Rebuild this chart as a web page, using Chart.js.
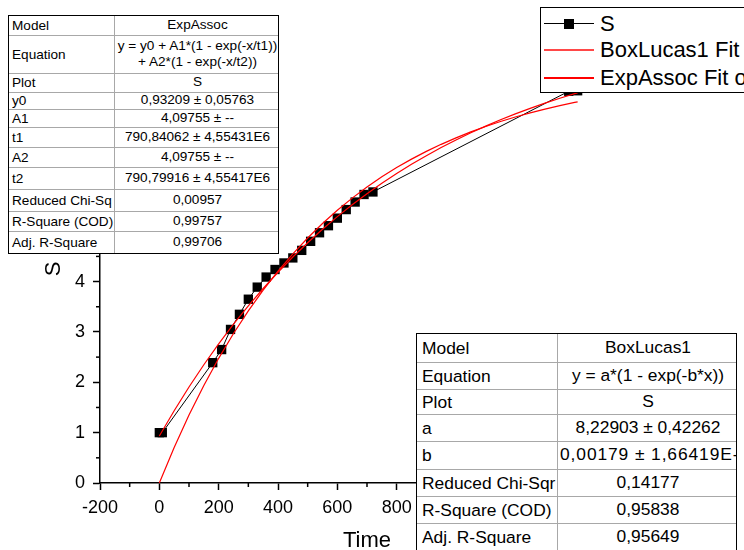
<!DOCTYPE html>
<html><head><meta charset="utf-8">
<script src="https://cdn.jsdelivr.net/npm/chart.js@4"></script>
<style>
html,body{margin:0;padding:0;background:#fff;}
#wrap{position:relative;width:744px;height:550px;overflow:hidden;font-family:"Liberation Sans",Arial,sans-serif;color:#000;}
#c{position:absolute;left:0;top:0;}
.tbl{position:absolute;background:#fff;border:1px solid #000;box-sizing:border-box;overflow:hidden;}
.cell{position:absolute;box-sizing:border-box;display:flex;align-items:center;overflow:hidden;line-height:1.15;border-bottom:1px solid #a8a8a8;}
.cell.last{border-bottom:none;}
.cell.lab{border-right:1px solid #a8a8a8;}
.cell span{display:block;white-space:pre;}
.cell.val span{width:100%;text-align:center;}
#legend{position:absolute;left:540px;top:7px;width:240px;height:86px;border:1px solid #000;background:#fff;box-sizing:border-box;}
.lrow{position:absolute;left:0;height:0;}
.lline{position:absolute;left:3px;width:50px;top:-1px;}
.lmark{position:absolute;left:23px;top:-5px;width:10px;height:10px;background:#000;}
.ltext{position:absolute;left:59px;top:-14px;font-size:22px;line-height:27px;white-space:nowrap;}
</style>
</head><body>
<div id="wrap">
<canvas id="c" width="744" height="550"></canvas>
</div>
<script>
// ---- data ----
const timeS = [0, 10, 180, 210, 240, 270, 300, 330, 360, 390, 420, 450, 480, 510, 540, 570, 600, 630, 660, 690, 720, 1380, 1410];
const valS  = [1.00, 1.00, 2.39, 2.65, 3.05, 3.35, 3.65, 3.89, 4.09, 4.24, 4.37, 4.47, 4.62, 4.80, 4.97, 5.11, 5.26, 5.43, 5.58, 5.73, 5.78, 7.78, 7.79];

const fitX = [0, 50, 100, 150, 200, 250, 300, 350, 400, 450, 500, 550, 600, 650, 700, 750, 800, 850, 900, 950, 1000, 1050, 1100, 1150, 1200, 1250, 1300, 1350, 1400, 1410];
const boxLucasY = [0, 0.705, 1.349, 1.938, 2.476, 2.969, 3.419, 3.831, 4.207, 4.552, 4.866, 5.154, 5.418, 5.658, 5.878, 6.080, 6.264, 6.432, 6.586, 6.726, 6.855, 6.973, 7.080, 7.179, 7.269, 7.351, 7.426, 7.495, 7.558, 7.570];
const expAssocY = [0.932, 1.434, 1.906, 2.348, 2.763, 3.153, 3.519, 3.863, 4.185, 4.488, 4.772, 5.039, 5.290, 5.525, 5.745, 5.953, 6.147, 6.330, 6.501, 6.662, 6.813, 6.955, 7.088, 7.213, 7.330, 7.440, 7.544, 7.641, 7.732, 7.749];

const xTickValues = [-200, 0, 200, 400, 600, 800, 1000, 1200, 1400, 1600];
const xMinorTicks = [-100, 100, 300, 500, 700, 900, 1100, 1300, 1500];
const yTickValues = [0, 1, 2, 3, 4, 5, 6, 7, 8];
const yMinorTicks = [0.5, 1.5, 2.5, 3.5, 4.5, 5.5, 6.5, 7.5];

const seriesNames = ["S", "BoxLucas1 Fit of S", "ExpAssoc Fit of S"];
const xTitle = "Time";
const yTitle = "S";

const expAssocTable = [
  ["Model", "ExpAssoc"],
  ["Equation", "y = y0 + A1*(1 - exp(-x/t1))\n+ A2*(1 - exp(-x/t2))"],
  ["Plot", "S"],
  ["y0", "0,93209 ± 0,05763"],
  ["A1", "4,09755 ± --"],
  ["t1", "790,84062 ± 4,55431E6"],
  ["A2", "4,09755 ± --"],
  ["t2", "790,79916 ± 4,55417E6"],
  ["Reduced Chi-Sq", "0,00957"],
  ["R-Square (COD)", "0,99757"],
  ["Adj. R-Square", "0,99706"]
];
const boxLucasTable = [
  ["Model", "BoxLucas1"],
  ["Equation", "y = a*(1 - exp(-b*x))"],
  ["Plot", "S"],
  ["a", "8,22903 ± 0,42262"],
  ["b", "0,00179 ± 1,66419E-4"],
  ["Reduced Chi-Sqr", "0,14177"],
  ["R-Square (COD)", "0,95838"],
  ["Adj. R-Square", "0,95649"]
];

// ---- chart ----
const FONT = '"Liberation Sans", Arial, sans-serif';
const pts = (xs, ys) => xs.map((x, i) => ({x, y: ys[i]}));

const minorTicks = {
  id: 'minorTicks',
  afterDraw(chart) {
    const {ctx, chartArea: a} = chart;
    const sx = chart.scales.x, sy = chart.scales.y;
    ctx.save();
    ctx.strokeStyle = '#000';
    ctx.lineWidth = 1.5;
    xMinorTicks.forEach(v => {
      const p = sx.getPixelForValue(v);
      ctx.beginPath(); ctx.moveTo(p, a.bottom); ctx.lineTo(p, a.bottom + 4); ctx.stroke();
    });
    yMinorTicks.forEach(v => {
      const p = sy.getPixelForValue(v);
      ctx.beginPath(); ctx.moveTo(a.left, p); ctx.lineTo(a.left - 4, p); ctx.stroke();
    });
    ctx.restore();
  }
};

new Chart(document.getElementById('c'), {
  type: 'scatter',
  data: {
    datasets: [
      {
        label: seriesNames[2], data: pts(fitX, expAssocY), showLine: true,
        borderColor: '#ff0000', borderWidth: 1.2, pointRadius: 0, order: 1
      },
      {
        label: seriesNames[1], data: pts(fitX, boxLucasY), showLine: true,
        borderColor: '#ff0000', borderWidth: 1.2, pointRadius: 0, order: 2
      },
      {
        label: seriesNames[0], data: pts(timeS, valS), showLine: true,
        borderColor: '#000', borderWidth: 1, pointStyle: 'rect', pointRadius: 6.6,
        pointBackgroundColor: '#000', pointBorderColor: '#000', pointBorderWidth: 0, order: 3
      }
    ]
  },
  options: {
    responsive: false, animation: false, devicePixelRatio: 1,
    layout: {padding: {left: 0, top: 55, right: 110, bottom: 0}},
    plugins: {legend: {display: false}, tooltip: {enabled: false}},
    scales: {
      x: {
        type: 'linear', position: 'bottom', min: -200, max: 1600,
        afterBuildTicks: s => { s.ticks = xTickValues.map(v => ({value: v})); },
        afterFit: s => { s.height = 67; },
        ticks: {color: '#000', font: {family: FONT, size: 18}, padding: 7, maxRotation: 0, autoSkip: false,
                callback: v => String(v)},
        grid: {drawOnChartArea: false, drawTicks: true, tickLength: 7, tickWidth: 1.5, tickColor: '#000'},
        border: {display: true, color: '#000', width: 1.5},
        title: {display: true, text: xTitle, color: '#000', font: {family: FONT, size: 22, lineHeight: 1}, padding: {top: 0, bottom: -2}}
      },
      y: {
        type: 'linear', position: 'left', min: 0, max: 8.5,
        afterBuildTicks: s => { s.ticks = yTickValues.map(v => ({value: v})); },
        afterFit: s => { s.width = 100; },
        ticks: {color: '#000', font: {family: FONT, size: 18}, padding: 8, autoSkip: false,
                callback: v => String(v)},
        grid: {drawOnChartArea: false, drawTicks: true, tickLength: 7, tickWidth: 1.5, tickColor: '#000'},
        border: {display: true, color: '#000', width: 1.5},
        title: {display: true, text: yTitle, color: '#000', font: {family: FONT, size: 22, lineHeight: 1}, padding: {top: 43, bottom: 0}}
      }
    }
  },
  plugins: [minorTicks]
});

// ---- overlays: legend and parameter tables ----
const wrap = document.getElementById('wrap');

function makeTable(rows, left, top, width, col1, rowHeights, fontSize, padL) {
  const t = document.createElement('div');
  t.className = 'tbl';
  const h = rowHeights.reduce((a, b) => a + b, 0) + 2;
  Object.assign(t.style, {left: left + 'px', top: top + 'px', width: width + 'px', height: h + 'px', fontSize: fontSize + 'px'});
  let y = 0;
  rows.forEach((r, i) => {
    const last = i === rows.length - 1 ? ' last' : '';
    const a = document.createElement('div');
    a.className = 'cell lab' + last;
    Object.assign(a.style, {left: '0px', top: y + 'px', width: col1 + 'px', height: rowHeights[i] + 'px', paddingLeft: padL + 'px'});
    a.innerHTML = '<span></span>'; a.firstChild.textContent = r[0];
    const b = document.createElement('div');
    b.className = 'cell val' + last;
    Object.assign(b.style, {left: col1 + 'px', top: y + 'px', width: (width - 2 - col1) + 'px', height: rowHeights[i] + 'px', paddingLeft: '2px', paddingBottom: '2px'});
    b.innerHTML = '<span></span>'; b.firstChild.textContent = r[1];
    t.appendChild(a); t.appendChild(b);
    y += rowHeights[i];
  });
  wrap.appendChild(t);
  return t;
}

makeTable(expAssocTable, 8, 15, 271, 106, [20, 38, 19, 17, 18, 20, 20, 22, 22, 20, 21], 13.6, 3);
const t2 = makeTable(boxLucasTable, 416, 333, 321, 141, [29, 27, 25, 27, 28, 27, 27, 26], 17.4, 5);
// the long error value overflows its cell in the original, so spread it a little
t2.children[9].firstChild.style.letterSpacing = '0.9px';

const lg = document.createElement('div');
lg.id = 'legend';
const rowsY = [16, 42, 70];
const styles = [
  {color: '#000', width: 1, marker: true},
  {color: '#ff4848', width: 2, marker: false},
  {color: '#ff0000', width: 2, marker: false}
];
seriesNames.forEach((n, i) => {
  const r = document.createElement('div');
  r.className = 'lrow'; r.style.top = rowsY[i] + 'px';
  const l = document.createElement('div');
  l.className = 'lline';
  l.style.height = styles[i].width + 'px';
  l.style.background = styles[i].color;
  r.appendChild(l);
  if (styles[i].marker) { const m = document.createElement('div'); m.className = 'lmark'; r.appendChild(m); }
  const tx = document.createElement('div');
  tx.className = 'ltext'; tx.textContent = n;
  r.appendChild(tx);
  lg.appendChild(r);
});
wrap.appendChild(lg);
</script>
</body></html>
